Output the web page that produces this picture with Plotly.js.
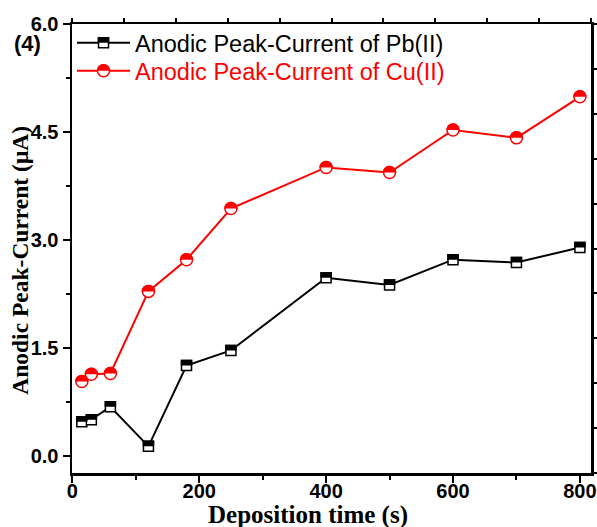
<!DOCTYPE html>
<html>
<head>
<meta charset="utf-8">
<script src="https://cdn.plot.ly/plotly-3.0.1.min.js"></script>
<style>
  html, body { margin: 0; padding: 0; background: #fff; }
  #chart { width: 597px; height: 527px; }
</style>
</head>
<body>
<div id="chart"></div>
<script>
// Deposition time (s)
const depositionTime = [15, 30, 60, 120, 180, 250, 400, 500, 600, 700, 800];
// Anodic peak current (µA)
const pbCurrent = [0.48, 0.51, 0.69, 0.14, 1.26, 1.47, 2.48, 2.38, 2.73, 2.69, 2.90];
const cuCurrent = [1.04, 1.14, 1.15, 2.29, 2.73, 3.44, 4.01, 3.94, 4.53, 4.42, 4.99];

const seriesNames = ['Anodic Peak-Current of Pb(II)', 'Anodic Peak-Current of Cu(II)'];
const seriesColors = ['#000000', '#ff0000'];
const panelLabel = '(4)';
const xTitle = 'Deposition time (s)';
const yTitle = 'Anodic Peak-Current (μA)';

const sans = 'Arial, "Liberation Sans", sans-serif';
const serif = '"Times New Roman", "Liberation Serif", serif';

// line + open (white) marker; a second marker trace fills the top half
const traces = [
  {
    x: depositionTime, y: pbCurrent, name: seriesNames[0], legend: 'legend',
    mode: 'lines+markers', type: 'scatter',
    line: { color: seriesColors[0], width: 2 },
    marker: { symbol: 'square', size: 10, color: '#fff', line: { color: seriesColors[0], width: 1.5 } }
  },
  {
    x: depositionTime, y: cuCurrent, legend: 'legend2',
    name: '<span style="color:' + seriesColors[1] + '">' + seriesNames[1] + '</span>',
    mode: 'lines+markers', type: 'scatter',
    line: { color: seriesColors[1], width: 2 },
    marker: { symbol: 'circle', size: 12, color: '#fff', line: { color: seriesColors[1], width: 1.5 } }
  },
  {
    x: depositionTime, y: pbCurrent, mode: 'markers', type: 'scatter', showlegend: false,
    marker: { symbol: 'square', size: 10, color: seriesColors[0], line: { color: seriesColors[0], width: 1.5 } }
  },
  {
    x: depositionTime, y: cuCurrent, mode: 'markers', type: 'scatter', showlegend: false,
    marker: { symbol: 'circle', size: 12, color: seriesColors[1], line: { color: seriesColors[1], width: 1.5 } }
  },
  // empty trace so the top/right frame axes get a subplot
  { x: [], y: [], xaxis: 'x2', yaxis: 'y2', mode: 'markers', showlegend: false, hoverinfo: 'skip' }
];

const W = 597, H = 527;
const M = { l: 72, r: 6, t: 23.5, b: 54 };
const pw = W - M.l - M.r, ph = H - M.t - M.b;
const px = v => (v - M.l) / pw;     // pixel -> paper x
const py = v => (H - M.b - v) / ph; // pixel -> paper y

const frameAxis = {
  showline: true, linewidth: 2.5, linecolor: '#000', mirror: false,
  showgrid: false, zeroline: false, ticks: 'outside', tickcolor: '#000'
};

const legendBase = {
  x: 0, xanchor: 'left', yanchor: 'top',
  bgcolor: 'rgba(0,0,0,0)', borderwidth: 0,
  itemwidth: 53,
  font: { family: sans, size: 23.5, color: '#000' }
};

const layout = {
  width: W, height: H,
  margin: M,
  paper_bgcolor: '#fff', plot_bgcolor: '#fff',
  showlegend: true,
  legend: Object.assign({}, legendBase, { y: py(20.5) }),
  legend2: Object.assign({}, legendBase, { y: py(48.5) }),
  xaxis: Object.assign({}, frameAxis, {
    range: [-0.5, 817.5], tick0: 0, dtick: 200,
    ticklen: 7, tickwidth: 2, ticklabelstandoff: -9,
    tickfont: { family: sans, size: 20, color: '#000', weight: 'bold' },
    minor: { dtick: 100, ticks: 'outside', ticklen: 4, tickwidth: 2, tickcolor: '#000', showgrid: false }
  }),
  yaxis: Object.assign({}, frameAxis, {
    range: [-0.23, 6.0], tick0: 0, dtick: 1.5, tickformat: '.1f',
    ticklen: 7, tickwidth: 2,
    tickfont: { family: sans, size: 20, color: '#000', weight: 'bold' },
    minor: { dtick: 0.75, ticks: 'outside', ticklen: 4, tickwidth: 2, tickcolor: '#000', showgrid: false }
  }),
  xaxis2: Object.assign({}, frameAxis, {
    overlaying: 'x', side: 'top', anchor: 'y', range: [0, 10], dtick: 1,
    ticklen: 4, tickwidth: 2, showticklabels: false
  }),
  yaxis2: Object.assign({}, frameAxis, {
    overlaying: 'y', side: 'right', anchor: 'x', range: [0, 10], dtick: 1,
    ticklen: 4, tickwidth: 2, showticklabels: false
  }),
  annotations: [
    {
      text: '<b>' + panelLabel + '</b>', xref: 'paper', yref: 'paper',
      x: px(27), y: py(43), xanchor: 'center', yanchor: 'middle', showarrow: false,
      font: { family: sans, size: 22, color: '#000' }
    },
    {
      text: '<b>' + xTitle + '</b>', xref: 'paper', yref: 'paper',
      x: px(307.5), y: py(515.5), xanchor: 'center', yanchor: 'middle', showarrow: false,
      font: { family: serif, size: 25, color: '#000' }
    },
    {
      text: '<b>' + yTitle + '</b>', xref: 'paper', yref: 'paper', textangle: -90,
      x: px(20), y: py(260.5), xanchor: 'center', yanchor: 'middle', showarrow: false,
      font: { family: serif, size: 23.5, color: '#000' }
    }
  ]
};

const halfClip = 'inset(-6px -6px 50% -6px)';

Plotly.newPlot('chart', traces, layout, { displayModeBar: false, staticPlot: true }).then(gd => {
  // keep only the top half of the filled markers
  const groups = gd.querySelectorAll('.scatterlayer .trace');
  [2, 3].forEach(i => {
    if (!groups[i]) return;
    groups[i].querySelectorAll('path.point').forEach(p => { p.style.clipPath = halfClip; });
  });
  // same half fill for the legend symbols
  gd.querySelectorAll('.legend .traces, .legend2 .traces').forEach(item => {
    const pt = item.querySelector('.legendpoints path.scatterpts');
    if (!pt) return;
    const top = pt.cloneNode(true);
    top.style.fill = pt.style.stroke;
    top.style.clipPath = halfClip;
    pt.parentNode.appendChild(top);
  });
});
</script>
</body>
</html>
